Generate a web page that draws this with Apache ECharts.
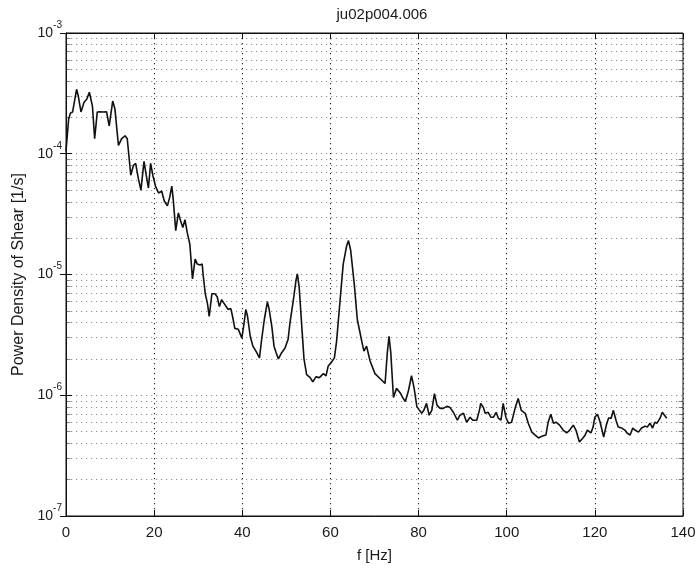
<!DOCTYPE html>
<html>
<head>
<meta charset="utf-8">
<script src="https://cdn.jsdelivr.net/npm/echarts@6/dist/echarts.min.js"></script>
<style>
html,body{margin:0;padding:0;background:#fff;}
#chart{width:699px;height:568px;}
</style>
</head>
<body>
<div id="chart"></div>
<script>
const chartTitle = 'ju02p004.006';
const xName = 'f [Hz]';
const yName = 'Power Density of Shear [1/s]';
const xTicks = [0, 20, 40, 60, 80, 100, 120, 140];
const yDecades = [1e-7, 1e-6, 1e-5, 1e-4, 1e-3];
const minorFactors = [2, 3, 4, 5, 6, 7, 8, 9];

const freq = [0,0.6,1.0,1.5,2.4,2.8,3.4,4.1,4.7,5.3,5.7,6.0,6.5,7.1,7.7,8.5,9.2,9.8,10.6,11.1,11.9,12.6,13.4,13.9,14.7,15.3,15.8,16.4,17.0,17.7,18.2,18.7,19.2,19.7,20.3,21.0,21.7,22.3,23.0,23.5,24.0,24.3,24.9,25.5,26.0,26.5,27.0,27.5,28.1,28.7,29.3,29.8,30.4,30.9,31.1,31.6,32.1,32.5,33.1,33.8,34.3,34.8,35.3,35.9,36.3,36.8,37.4,37.8,38.3,39.1,39.9,40.4,40.8,41.2,41.8,42.4,43.1,43.9,44.4,45.0,45.7,46.1,46.7,47.2,47.7,48.2,48.9,49.7,50.4,50.8,51.6,52.2,52.5,52.9,53.5,54.0,54.6,55.4,56.0,56.7,57.5,58.4,59.0,59.5,60.3,60.9,61.4,62.2,62.9,63.7,64.1,64.6,65.4,66.1,67.1,67.6,68.2,69.0,70.1,71.3,72.4,72.9,73.3,73.7,74.3,75.0,75.8,76.5,77.0,77.7,78.4,79.0,79.6,80.2,80.7,81.2,81.8,82.4,83.0,83.6,84.2,84.9,85.6,86.4,87.1,87.9,88.8,89.4,90.2,90.9,91.7,92.3,93.2,93.8,94.1,94.7,95.1,95.8,96.4,97.0,97.6,98.1,98.7,99.2,99.8,100.4,101.1,101.9,102.6,103.3,104.2,104.9,105.7,106.4,107.2,108.1,108.9,109.4,110.0,110.6,111.2,112.0,112.8,113.6,114.3,115.1,115.7,116.5,117.3,117.8,118.3,119.1,119.6,120.0,120.6,121.2,122.0,122.6,123.1,123.7,124.2,124.8,125.3,126.1,126.8,127.3,128.0,128.6,129.1,129.9,130.6,131.4,131.9,132.5,133.1,133.6,134.1,134.8,135.3,135.8,136.3];

const psd = [
1.05e-4,1.94e-4,2.17e-4,2.22e-4,3.42e-4,2.99e-4,2.22e-4,2.67e-4,2.83e-4,3.23e-4,3.11e-4,2.48e-4,1.33e-4,2.22e-4,2.23e-4,2.22e-4,2.23e-4,1.70e-4,2.73e-4,2.35e-4,
1.17e-4,1.33e-4,1.41e-4,1.33e-4,6.64e-5,8.02e-5,8.32e-5,6.28e-5,5.00e-5,8.64e-5,6.64e-5,5.20e-5,8.32e-5,6.64e-5,5.40e-5,4.73e-5,4.91e-5,4.06e-5,3.70e-5,4.31e-5,
5.40e-5,4.31e-5,2.31e-5,3.24e-5,2.79e-5,2.45e-5,2.84e-5,2.23e-5,1.78e-5,9.18e-6,1.34e-5,1.22e-5,1.20e-5,1.22e-5,1.01e-5,6.92e-6,5.74e-6,4.49e-6,6.92e-6,6.92e-6,
6.54e-6,5.42e-6,6.18e-6,5.74e-6,5.96e-6,5.13e-6,5.22e-6,4.49e-6,3.58e-6,3.52e-6,2.97e-6,3.94e-6,5.13e-6,4.49e-6,3.08e-6,2.55e-6,2.32e-6,2.04e-6,2.91e-6,4.24e-6,
5.96e-6,5.13e-6,3.72e-6,2.55e-6,2.24e-6,2.00e-6,2.24e-6,2.46e-6,2.91e-6,3.94e-6,6.18e-6,9.02e-6,1.01e-5,7.91e-6,3.72e-6,2.00e-6,1.48e-6,1.40e-6,1.29e-6,1.42e-6,
1.40e-6,1.51e-6,1.45e-6,1.75e-6,1.89e-6,2.04e-6,2.81e-6,6.18e-6,1.22e-5,1.74e-5,1.91e-5,1.58e-5,8.36e-6,4.24e-6,2.81e-6,2.32e-6,2.55e-6,1.92e-6,1.51e-6,1.37e-6,
1.25e-6,2.24e-6,3.08e-6,2.24e-6,9.59e-7,1.14e-6,1.05e-6,9.40e-7,8.89e-7,1.09e-6,1.45e-6,1.14e-6,8.09e-7,7.50e-7,7.09e-7,7.50e-7,8.57e-7,6.83e-7,7.50e-7,1.03e-6,
8.24e-7,7.79e-7,7.79e-7,8.09e-7,7.94e-7,7.23e-7,6.21e-7,6.83e-7,7.09e-7,5.98e-7,6.58e-7,6.21e-7,6.21e-7,7.50e-7,8.57e-7,7.94e-7,7.09e-7,7.23e-7,6.58e-7,6.58e-7,
7.23e-7,6.46e-7,6.21e-7,8.57e-7,6.58e-7,5.87e-7,5.98e-7,7.79e-7,9.40e-7,7.50e-7,7.09e-7,5.87e-7,4.95e-7,4.69e-7,4.43e-7,4.60e-7,4.69e-7,5.98e-7,6.97e-7,5.87e-7,
5.98e-7,5.66e-7,5.15e-7,4.87e-7,5.15e-7,5.66e-7,5.15e-7,4.10e-7,4.43e-7,4.69e-7,5.15e-7,4.87e-7,5.45e-7,6.58e-7,6.97e-7,5.98e-7,4.51e-7,5.66e-7,6.46e-7,6.46e-7,
7.50e-7,6.21e-7,5.45e-7,5.35e-7,5.15e-7,4.87e-7,4.69e-7,5.35e-7,5.15e-7,4.95e-7,5.35e-7,5.55e-7,5.45e-7,5.87e-7,5.35e-7,5.98e-7,5.87e-7,6.46e-7,7.23e-7,6.83e-7,
6.46e-7];

const FONT = '"Liberation Sans", Arial, Helvetica, sans-serif';
const TXT = '#1a1a1a';
const xMin = xTicks[0], xMax = xTicks[xTicks.length - 1];
const yMin = yDecades[0], yMax = yDecades[yDecades.length - 1];

const seriesData = freq.map((f, i) => [f, psd[i]]);

// horizontal dotted grid lines (decades and 2..9 within each decade)
const gridYValues = [];
for (let d = 0; d < yDecades.length - 1; d++) {
  if (d > 0) gridYValues.push(yDecades[d]);
  minorFactors.forEach(m => gridYValues.push(yDecades[d] * m));
}
const minorYValues = gridYValues.filter(v => yDecades.indexOf(v) < 0);
const dotted = { color: '#222', width: 1.1, type: [1.2, 3.8] };
const gridSegs = gridYValues.map(v => ({ coords: [[xMin, v], [xMax, v]] }));
// small minor ticks on left and right frame edges (length in Hz)
const tickLen = 1.0;
const tickSegs = [];
minorYValues.forEach(v => {
  tickSegs.push({ coords: [[xMin, v], [xMin + tickLen, v]] });
  tickSegs.push({ coords: [[xMax - tickLen, v], [xMax, v]] });
});

const chart = echarts.init(document.getElementById('chart'), null, { renderer: 'canvas' });
chart.setOption({
  animation: false,
  backgroundColor: '#fff',
  textStyle: { fontFamily: FONT },
  title: {
    text: chartTitle,
    left: 377, top: 2, textAlign: 'center',
    textStyle: { fontSize: 15, fontWeight: 'normal', color: TXT, fontFamily: FONT }
  },
  grid: { left: 66, right: 16, top: 33, bottom: 46, show: true, borderColor: '#111', borderWidth: 1, backgroundColor: 'transparent' },
  xAxis: [{
    type: 'value', min: xMin, max: xMax, interval: 20,
    name: xName, nameLocation: 'middle', nameGap: 32,
    nameTextStyle: { fontSize: 15, color: TXT, fontFamily: FONT },
    axisLine: { show: true, lineStyle: { color: '#111' } },
    axisTick: { show: true, inside: true, length: 6, lineStyle: { color: '#111' } },
    axisLabel: { fontSize: 15, color: TXT, margin: 9, fontFamily: FONT },
    splitLine: { show: true, lineStyle: dotted }
  }, {
    type: 'value', min: xMin, max: xMax, interval: 20, position: 'top',
    axisLine: { show: true, lineStyle: { color: '#111' } },
    axisTick: { show: true, inside: true, length: 6, lineStyle: { color: '#111' } },
    axisLabel: { show: false }, splitLine: { show: false }
  }],
  yAxis: [{
    type: 'log', logBase: 10, min: yMin, max: yMax,
    name: yName, nameLocation: 'middle', nameGap: 36,
    nameTextStyle: { fontSize: 16, color: TXT, fontFamily: FONT },
    axisLine: { show: true, lineStyle: { color: '#111' } },
    axisTick: { show: true, inside: true, length: 6, lineStyle: { color: '#111' } },
    axisLabel: {
      margin: 4, color: TXT, fontFamily: FONT,
      formatter: v => '{b|10}{s|' + Math.round(Math.log10(v)) + '}',
      rich: {
        b: { fontSize: 14, lineHeight: 26, color: TXT, fontFamily: FONT },
        s: { fontSize: 10, lineHeight: 11, verticalAlign: 'top', color: TXT, fontFamily: FONT }
      }
    },
    splitLine: { show: false }
  }, {
    type: 'log', logBase: 10, min: yMin, max: yMax, position: 'right',
    axisLine: { show: true, lineStyle: { color: '#111' } },
    axisTick: { show: true, inside: true, length: 6, lineStyle: { color: '#111' } },
    axisLabel: { show: false }, splitLine: { show: false }
  }],
  series: [{
    type: 'lines', coordinateSystem: 'cartesian2d', xAxisIndex: 0, yAxisIndex: 0,
    data: gridSegs, silent: true, z: 1, large: false,
    lineStyle: dotted, effect: { show: false }
  }, {
    type: 'lines', coordinateSystem: 'cartesian2d', xAxisIndex: 0, yAxisIndex: 0,
    data: tickSegs, silent: true, z: 2, large: false,
    lineStyle: { color: '#111', width: 1, type: 'solid' }, effect: { show: false }
  }, {
    type: 'line', xAxisIndex: 0, yAxisIndex: 0,
    data: seriesData, showSymbol: false, symbol: 'none',
    lineStyle: { color: '#111', width: 1.6 },
    silent: true, z: 5
  }]
});
</script>
</body>
</html>
